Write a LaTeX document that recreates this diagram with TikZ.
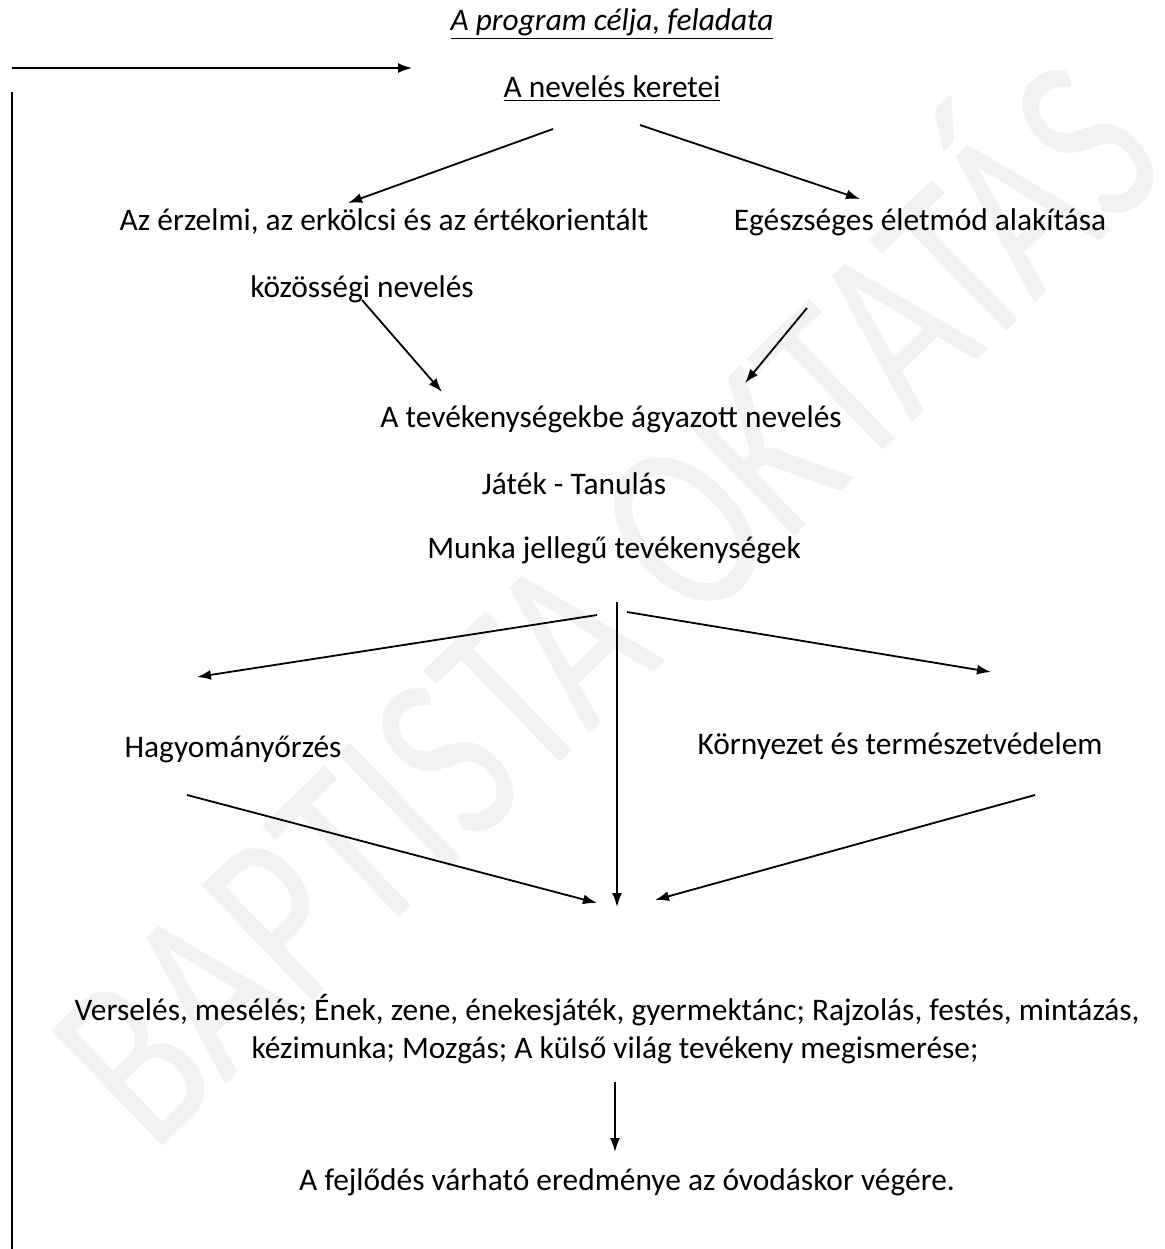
\documentclass[tikz,border=0pt]{standalone}
\usepackage{fontspec}
\setmainfont{Carlito}
\usetikzlibrary{arrows.meta}

\tikzset{
  label text/.style={font=\fontsize{15.7}{19}\selectfont, inner sep=0pt, anchor=base},
  flow arrow/.style={-{Latex[length=7pt,width=5pt]}, line width=0.9pt},
  watermark/.style={font=\fontsize{125}{130}\selectfont, text=gray!10, rotate=44, xscale=0.75, inner sep=0pt}
}

\begin{document}
\begin{tikzpicture}[x=0.5pt,y=-0.5pt]
   \useasboundingbox (0,0) rectangle (1164,1249);
   % watermark behind everything
   \node[watermark] (wm) at (592,588) {BAPTISTA OKTATÁS};

   % titles
   \node[label text] (cel) at (612,30) {\textit{\underline{A program célja, feladata}}};
   \node[label text] (keretei) at (612,97) {\underline{A nevelés keretei}};

   % frame on the left
   \coordinate (frameStart) at (12,68);
   \coordinate (frameEnd) at (412,68);
   \coordinate (sideTop) at (12,92);
   \coordinate (sideBottom) at (12,1249);
   \draw[flow arrow] (frameStart) -- (frameEnd);
   \draw[line width=0.9pt] (sideTop) -- (sideBottom);

   % second level
   \node[label text] (erzelmi) at (384,230) {Az érzelmi, az erkölcsi és az értékorientált};
   \node[label text] (kozossegi) at (362,297) {közösségi nevelés};
   \node[label text] (egeszseg) at (920,230) {Egészséges életmód alakítása};

   % activities
   \node[label text] (tevekeny) at (611,427) {A tevékenységekbe ágyazott nevelés};
   \node[label text] (jatek) at (574,494) {Játék - Tanulás};
   \node[label text] (munka) at (614,558) {Munka jellegű tevékenységek};

   \node[label text] (hagyomany) at (233,757) {Hagyományőrzés};
   \node[label text] (kornyezet) at (900,754) {Környezet és természetvédelem};

   \node[label text] (verseles) at (607,1020) {Verselés, mesélés; Ének, zene, énekesjáték, gyermektánc; Rajzolás, festés, mintázás,};
   \node[label text] (kezimunka) at (615,1058) {kézimunka; Mozgás; A külső világ tevékeny megismerése;};
   \node[label text] (eredmeny) at (627,1190) {A fejlődés várható eredménye az óvodáskor végére.};

   % arrow ends
   \coordinate (kL) at (553,129);
   \coordinate (kR) at (640,125);
   \coordinate (eL) at (348,203);
   \coordinate (eR) at (860,199);
   \coordinate (kozStart) at (362,300);
   \coordinate (kozEnd) at (442,392);
   \coordinate (egStart) at (807,308);
   \coordinate (egEnd) at (745,383);
   \coordinate (mTop) at (617,602);
   \coordinate (mBottom) at (617,907);
   \coordinate (mL) at (597,615);
   \coordinate (mR) at (627,612);
   \coordinate (hTip) at (197,677);
   \coordinate (kTip) at (991,672);
   \coordinate (hStart) at (187,795);
   \coordinate (hEnd) at (597,903);
   \coordinate (kStart) at (1035,795);
   \coordinate (kEnd) at (655,900);
   \coordinate (vStart) at (615,1082);
   \coordinate (vEnd) at (615,1152);

   \draw[flow arrow] (kL) -- (eL);
   \draw[flow arrow] (kR) -- (eR);
   \draw[flow arrow] (kozStart) -- (kozEnd);
   \draw[flow arrow] (egStart) -- (egEnd);
   \draw[flow arrow] (mTop) -- (mBottom);
   \draw[flow arrow] (mL) -- (hTip);
   \draw[flow arrow] (mR) -- (kTip);
   \draw[flow arrow] (hStart) -- (hEnd);
   \draw[flow arrow] (kStart) -- (kEnd);
   \draw[flow arrow] (vStart) -- (vEnd);
\end{tikzpicture}
\end{document}
